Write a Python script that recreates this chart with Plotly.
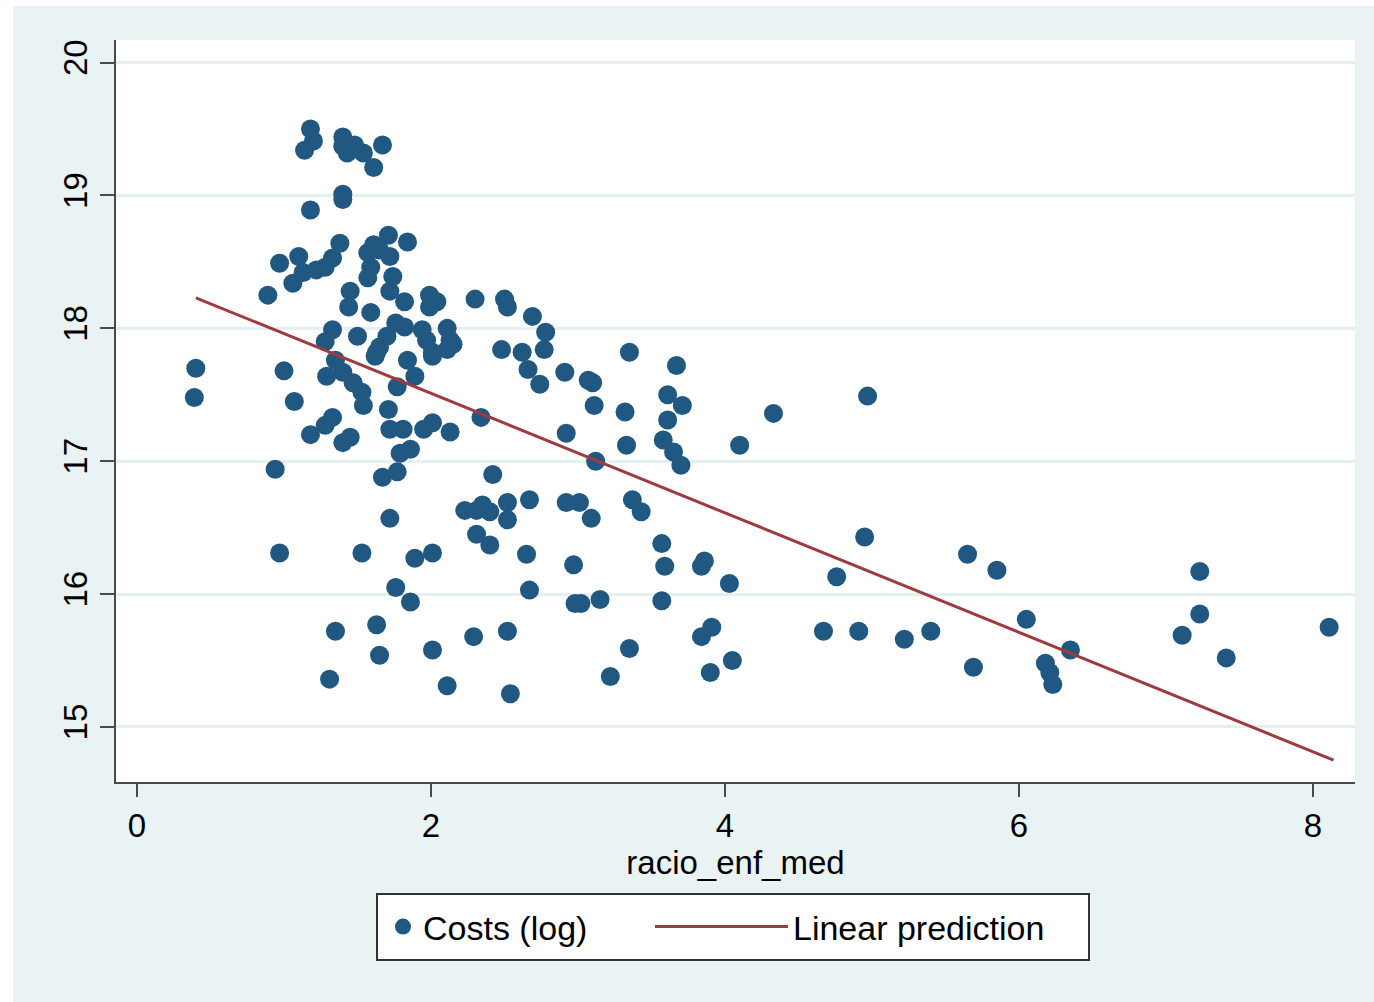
import plotly.graph_objects as go

# ---- data ----
ratio = [0.40, 0.39, 0.89, 0.97, 1.00, 1.07, 0.94, 0.97, 1.06, 1.10,
         1.13, 1.22, 1.28, 1.18, 1.20, 1.14, 1.18, 1.38, 1.33, 1.33,
         1.28, 1.50, 1.35, 1.29, 1.40, 1.47, 1.53, 1.54, 1.18, 1.28,
         1.33, 1.40, 1.45, 1.35, 1.31, 1.40, 1.40, 1.43, 1.48, 1.54,
         1.61, 1.67, 1.40, 1.40, 1.45, 1.44, 1.59, 1.53, 1.63, 1.65,
         1.71, 1.61, 1.57, 1.65, 1.72, 1.59, 1.57, 1.84, 1.74, 1.72,
         1.82, 1.99, 2.04, 1.99, 2.30, 1.76, 1.82, 1.70, 1.65, 1.62,
         1.94, 1.97, 2.11, 2.13, 1.84, 2.01, 2.11, 2.15, 2.01, 1.63,
         1.77, 1.89, 1.71, 1.72, 1.81, 1.79, 1.86, 1.67, 1.77, 1.95,
         2.01, 2.13, 1.72, 1.76, 1.86, 1.89, 2.01, 2.01, 2.11, 2.50,
         2.52, 2.48, 2.62, 2.69, 2.78, 2.77, 2.66, 2.74, 2.91, 3.07,
         3.10, 3.11, 3.32, 3.35, 2.92, 3.12, 2.34, 2.42, 2.23, 2.31,
         2.35, 2.40, 2.31, 2.40, 2.52, 2.52, 2.67, 2.65, 2.67, 2.52,
         2.54, 2.29, 2.92, 3.01, 3.09, 2.97, 2.98, 3.02, 3.15, 3.22,
         3.35, 3.37, 3.43, 3.33, 3.61, 3.71, 3.67, 3.61, 3.58, 3.65,
         3.70, 3.57, 3.59, 3.57, 3.84, 3.86, 4.03, 3.84, 3.91, 3.90,
         4.05, 4.10, 4.33, 4.97, 4.76, 4.95, 4.67, 4.91, 5.22, 5.40,
         5.65, 5.85, 5.69, 6.05, 6.18, 6.21, 6.23, 6.35, 7.11, 7.23,
         7.23, 7.41, 8.11]

costs_log = [17.70, 17.48, 18.25, 18.49, 17.68, 17.45, 16.94, 16.31, 18.34, 18.54,
             18.42, 18.44, 18.46, 19.50, 19.41, 19.34, 18.89, 18.64, 18.53, 17.99,
             17.90, 17.94, 17.76, 17.64, 17.67, 17.59, 17.52, 17.42, 17.20, 17.27,
             17.33, 17.14, 17.18, 15.72, 15.36, 19.44, 19.37, 19.32, 19.38, 19.32,
             19.21, 19.38, 19.01, 18.97, 18.28, 18.16, 18.12, 16.31, 15.77, 15.54,
             18.70, 18.63, 18.57, 18.59, 18.54, 18.46, 18.38, 18.65, 18.39, 18.28,
             18.20, 18.25, 18.20, 18.16, 18.22, 18.04, 18.01, 17.94, 17.86, 17.79,
             17.99, 17.91, 18.00, 17.91, 17.76, 17.82, 17.84, 17.88, 17.79, 17.82,
             17.56, 17.64, 17.39, 17.24, 17.24, 17.06, 17.09, 16.88, 16.92, 17.24,
             17.29, 17.22, 16.57, 16.05, 15.94, 16.27, 16.31, 15.58, 15.31, 18.22,
             18.16, 17.84, 17.82, 18.09, 17.97, 17.84, 17.69, 17.58, 17.67, 17.61,
             17.59, 17.42, 17.37, 17.82, 17.21, 17.00, 17.33, 16.90, 16.63, 16.63,
             16.67, 16.62, 16.45, 16.37, 16.69, 16.56, 16.71, 16.30, 16.03, 15.72,
             15.25, 15.68, 16.69, 16.69, 16.57, 16.22, 15.93, 15.93, 15.96, 15.38,
             15.59, 16.71, 16.62, 17.12, 17.50, 17.42, 17.72, 17.31, 17.16, 17.07,
             16.97, 16.38, 16.21, 15.95, 16.21, 16.25, 16.08, 15.68, 15.75, 15.41,
             15.50, 17.12, 17.36, 17.49, 16.13, 16.43, 15.72, 15.72, 15.66, 15.72,
             16.30, 16.18, 15.45, 15.81, 15.48, 15.41, 15.32, 15.58, 15.69, 15.85,
             16.17, 15.52, 15.75]

pred_x = [0.40, 8.14]
pred_y = [18.23, 14.75]

x_ticks = [0, 2, 4, 6, 8]
y_ticks = [15, 16, 17, 18, 19, 20]

series_names = ["Costs (log)", "Linear prediction"]
x_title = "racio_enf_med"

# ---- styling ----
FONT = "Liberation Sans, Arial, Helvetica, sans-serif"
FS = 33
LEG_FS = 34
MARKER_COLOR = "#215882"
LINE_COLOR = "#9e3b3e"
OUTER_BG = "#eaf3f4"
GRID = "#e6f0f1"
AXIS = "#4a4a4a"

W, H = 1374, 1002
L, R, T, B = 116, 19, 40, 220
pw, ph = W - L - R, H - T - B


def px_x(p):
    return (p - L) / pw


def px_y(p):
    return (H - B - p) / ph


fig = go.Figure()
fig.add_trace(go.Scatter(
    x=ratio, y=costs_log, mode="markers", name=series_names[0],
    marker=dict(color=MARKER_COLOR, size=19, line=dict(width=0)),
    legend="legend",
))
fig.add_trace(go.Scatter(
    x=pred_x, y=pred_y, mode="lines", name=series_names[1],
    line=dict(color=LINE_COLOR, width=3),
    legend="legend2",
))

# thin white strips at top and left of the light panel
fig.add_shape(type="rect", xref="paper", yref="paper",
              x0=px_x(0), x1=px_x(13), y0=px_y(H), y1=px_y(0),
              fillcolor="white", line=dict(width=0), layer="below")
fig.add_shape(type="rect", xref="paper", yref="paper",
              x0=px_x(0), x1=px_x(W), y0=px_y(6), y1=px_y(0),
              fillcolor="white", line=dict(width=0), layer="below")
# legend frame shared by both legend entries
fig.add_shape(type="rect", xref="paper", yref="paper",
              x0=px_x(377), x1=px_x(1089), y0=px_y(960), y1=px_y(894),
              fillcolor="white", line=dict(color="#333333", width=2), layer="above")

leg_common = dict(orientation="h", yanchor="middle", y=px_y(927), xanchor="left",
                  bgcolor="rgba(0,0,0,0)", borderwidth=0,
                  font=dict(family=FONT, size=LEG_FS, color="black"))

fig.update_layout(
    width=W, height=H,
    margin=dict(l=L, r=R, t=T, b=B),
    paper_bgcolor=OUTER_BG,
    plot_bgcolor="white",
    font=dict(family=FONT, size=FS, color="black"),
    showlegend=True,
    legend=dict(x=px_x(383), itemwidth=30, **leg_common),
    legend2=dict(x=px_x(650), itemwidth=133, **leg_common),
)
fig.update_xaxes(
    range=[-0.143, 8.286], tickvals=x_ticks, ticktext=[str(v) for v in x_ticks],
    showgrid=False, zeroline=False, showline=True, linecolor=AXIS, linewidth=2,
    ticks="outside", ticklen=13, tickwidth=2, tickcolor=AXIS,
    tickfont=dict(family=FONT, size=FS, color="black"),
    title=dict(text=x_title, font=dict(family=FONT, size=FS, color="black"), standoff=0),
)
fig.update_yaxes(
    range=[14.586, 20.17], tickvals=y_ticks, ticktext=[str(v) for v in y_ticks],
    showgrid=True, gridcolor=GRID, gridwidth=3, zeroline=False,
    showline=True, linecolor=AXIS, linewidth=2,
    ticks="outside", ticklen=14, tickwidth=2, tickcolor=AXIS, tickangle=-90,
    tickfont=dict(family=FONT, size=FS, color="black"),
)

fig.write_html("out.html")
